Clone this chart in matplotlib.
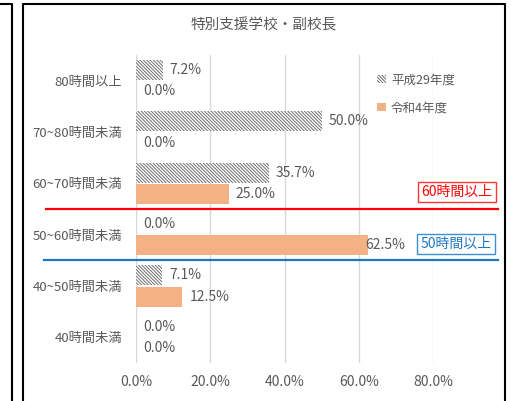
import matplotlib
matplotlib.use("Agg")
import matplotlib.pyplot as plt
from matplotlib.lines import Line2D
import numpy as np

plt.rcParams["font.family"] = ["Noto Sans CJK JP", "DejaVu Sans"]
plt.rcParams["hatch.linewidth"] = 0.7

categories = ["80時間以上", "70~80時間未満", "60~70時間未満", "50~60時間未満", "40~50時間未満", "40時間未満"]
series_names = ["平成29年度", "令和4年度"]
h29 = [0.072, 0.500, 0.357, 0.000, 0.071, 0.000]
r4 = [0.000, 0.000, 0.250, 0.625, 0.125, 0.000]
xticks = [0.0, 0.2, 0.4, 0.6, 0.8]
title = "特別支援学校・副校長"

W, H = 517, 401
GRAY = "#595959"
ORANGE = "#F4B183"


def fx(px):
    return px / W


def fy(py):
    return 1 - py / H


fig = plt.figure(figsize=(W / 100, H / 100), dpi=100)
ax = fig.add_axes([fx(136), fy(363), fx(433) - fx(136), fy(55) - fy(363)])

y = np.arange(len(categories))
bh = 0.39
off = 0.21
b1 = ax.barh(y - off, h29, height=bh, color="white", edgecolor="#6e6e6e",
             hatch="\\" * 10, linewidth=0, label=series_names[0])
b2 = ax.barh(y + off, r4, height=bh, color=ORANGE, linewidth=0, label=series_names[1])

for bars, vals in ((b1, h29), (b2, r4)):
    for rect, v in zip(bars, vals):
        dx = -2 if v > 0.6 else 5
        ax.annotate(f"{v * 100:.1f}%", (v, rect.get_y() + rect.get_height() / 2),
                    xytext=(dx, 0), textcoords="offset points",
                    ha="left", va="center", fontsize=10, color=GRAY)

ax.set_xlim(0, 0.8)
ax.set_ylim(len(categories) - 0.5, -0.5)
ax.set_xticks(xticks)
ax.set_xticklabels([f"{t * 100:.1f}%" for t in xticks])
ax.set_yticks(y)
ax.set_yticklabels(categories)
ax.tick_params(axis="both", length=0, colors=GRAY, labelsize=9.5)
ax.tick_params(axis="x", labelsize=10)
ax.tick_params(axis="y", pad=10)
ax.tick_params(axis="x", pad=9)
ax.grid(axis="x", color="#d9d9d9", linewidth=1)
ax.set_axisbelow(True)
for s in ax.spines.values():
    s.set_visible(False)

fig.text(fx(264), fy(25), title, ha="center", va="center", fontsize=10.5, color=GRAY)

ax.legend(loc="upper left", bbox_to_anchor=(fx(366), fy(62)), bbox_transform=fig.transFigure,
          frameon=False, fontsize=9, handlelength=0.7, handleheight=0.7,
          handletextpad=0.4, labelspacing=1.2, labelcolor=GRAY)

# threshold lines and boxes
fig.add_artist(Line2D([fx(46), fx(498)], [fy(209), fy(209)], color="#ff0000", linewidth=1.6))
fig.add_artist(Line2D([fx(44), fx(498)], [fy(260), fy(260)], color="#1f77c4", linewidth=1.6))
fig.text(fx(457), fy(192), "60時間以上", ha="center", va="center", fontsize=10, color="#ff0000",
         bbox=dict(boxstyle="square,pad=0.25", facecolor="white", edgecolor="#ff3333", linewidth=1))
fig.text(fx(456), fy(244), "50時間以上", ha="center", va="center", fontsize=10, color="#1f77c4",
         bbox=dict(boxstyle="square,pad=0.25", facecolor="white", edgecolor="#3a8fd6", linewidth=1))

# frames
fig.add_artist(Line2D([fx(0), fx(12), fx(12)], [fy(4), fy(4), fy(401)], color="black", linewidth=1.5))
fig.add_artist(Line2D([fx(23), fx(23), fx(505), fx(505)], [fy(401), fy(4), fy(4), fy(401)],
                      color="black", linewidth=1.5))

fig.savefig("out.png", dpi=100)
